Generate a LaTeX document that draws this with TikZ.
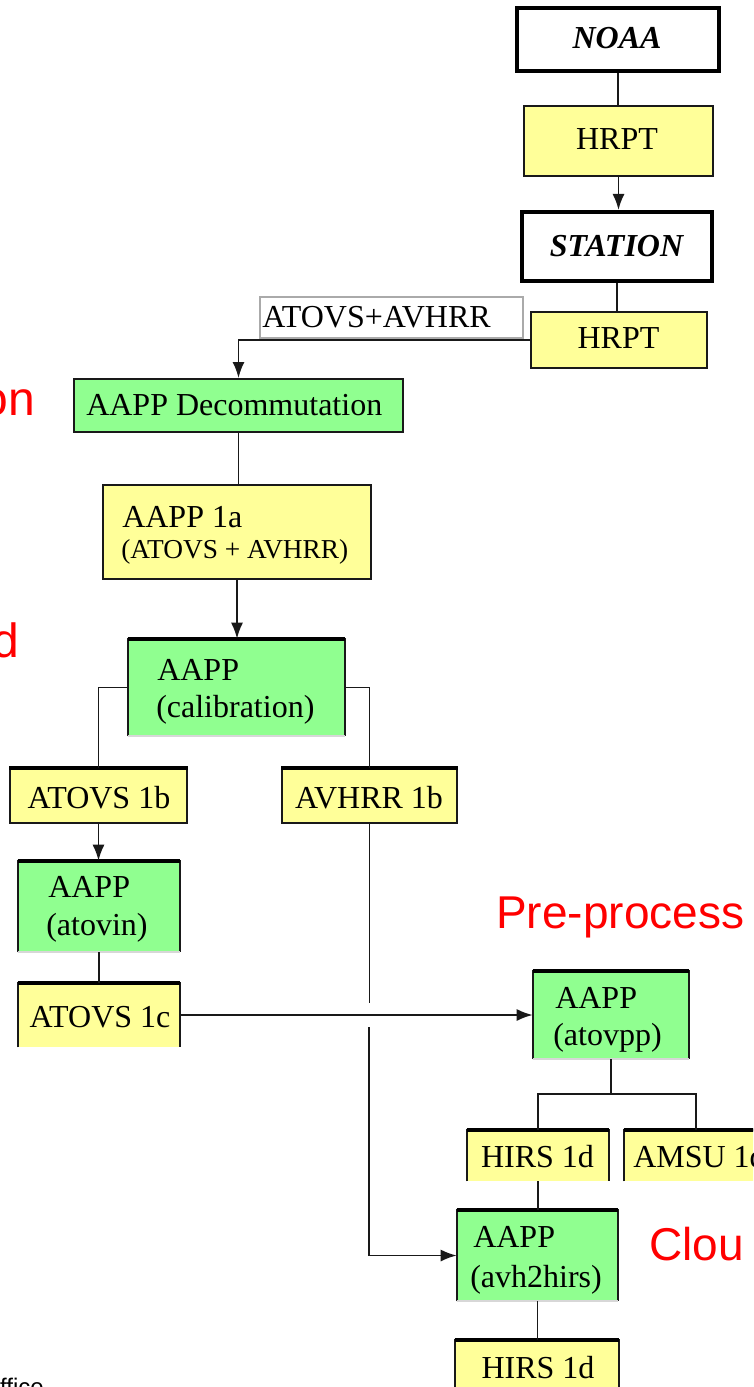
\documentclass[tikz,border=0pt]{standalone}
\usepackage{fontspec}
\setmainfont{Liberation Serif}
\newfontfamily\arialf{Liberation Sans}
\usetikzlibrary{fit,arrows.meta}
\definecolor{yel}{RGB}{255,255,153}
\definecolor{grn}{RGB}{144,255,144}
\definecolor{edgec}{RGB}{25,25,25}
\definecolor{lblc}{RGB}{170,170,170}
\definecolor{faintc}{RGB}{215,215,215}
\definecolor{redc}{RGB}{255,0,0}
\begin{document}
\begin{tikzpicture}[x=0.75pt,y=-0.75pt,
  box/.style={inner sep=0pt, line width=1.4pt, draw=edgec},
  ybox/.style={box, fill=yel},
  gbox/.style={box, fill=grn},
  yfill/.style={inner sep=0pt, fill=yel},
  gfill/.style={inner sep=0pt, fill=grn},
  wbox/.style={inner sep=0pt, line width=3pt, draw=black, fill=white},
  lblbox/.style={inner sep=0pt, line width=1pt, draw=lblc, fill=white},
  side/.style={line width=1.4pt, draw=edgec},
  topbar/.style={line width=3.2pt, draw=black},
  faint/.style={line width=1.2pt, draw=faintc},
  conn/.style={line width=1.4pt, draw=edgec},
  arr/.style={conn, -{Latex[length=12pt,width=9pt]}},
  txt/.style={font=\fontsize{24}{29}\selectfont, inner sep=0pt, anchor=base},
  ltxt/.style={txt, anchor=base west},
  stxt/.style={font=\fontsize{20.5}{24}\selectfont, inner sep=0pt, anchor=base west},
  bitxt/.style={txt, font=\fontsize{24}{29}\selectfont\bfseries\itshape},
  redtxt/.style={font=\arialf\fontsize{34.5}{40}\selectfont, text=redc, inner sep=0pt},
  redbig/.style={font=\arialf\fontsize{36}{42}\selectfont, text=redc, inner sep=0pt},
  blktxt/.style={font=\arialf\fontsize{18}{21}\selectfont, inner sep=0pt}
]
\useasboundingbox (0,0) rectangle (753,1387);
\clip (0,0) rectangle (753,1387);

% top boxes
\node[wbox, fit={(517,8)(719,71)}] (noaa) {};
\node[ybox, fit={(524,106)(713,176)}] (hrpt1) {};
\node[wbox, fit={(522,212)(712,281)}] (station) {};
\node[lblbox, fit={(260,297)(523,338)}] (lbl) {};
\node[ybox, fit={(531,312)(707,368)}] (hrpt2) {};
\node[gbox, fit={(74,379)(403,432)}] (decom) {};
\node[ybox, fit={(103,485)(371,579)}] (a1a) {};

% boxes with heavy top edge
\node[gfill, fit={(128,639)(345,736)}] (cal) {};
\node[ybox, fit={(10,769)(187,823)}] (atovs1b) {};
\node[ybox, fit={(282,769)(457,823)}] (avhrr1b) {};
\node[gfill, fit={(18,861)(180,952)}] (atovin) {};
\node[yfill, fit={(18,983)(180,1047)}] (atovs1c) {};
\node[gfill, fit={(533,971)(689,1059)}] (atovpp) {};
\node[yfill, fit={(467,1130)(609,1181)}] (hirsa) {};
\node[yfill, fit={(624,1130)(768,1181)}] (amsu) {};
\node[gfill, fit={(457,1210)(618,1301)}] (avh) {};
\node[yfill, fit={(455,1340)(619,1400)}] (hirsb) {};

\foreach \n in {cal,atovin,atovs1c,atovpp,hirsa,amsu,avh,hirsb}{
  \draw[side] (\n.south west) -- (\n.north west) -- (\n.north east) -- (\n.south east);
}
\foreach \n in {cal,atovin,atovpp,avh}{
  \draw[faint] (\n.south west) -- (\n.south east);
}
\foreach \n in {cal,atovs1b,avhrr1b,atovin,atovs1c,atovpp,hirsa,amsu,avh,hirsb}{
  \draw[topbar] (\n.north west) -- (\n.north east);
}

% texts
\node[bitxt] (tnoaa) at (617,49) {NOAA};
\node[txt] (thrpt1) at (617,150) {HRPT};
\node[bitxt] (tstation) at (616.5,257) {STATION};
\node[ltxt] (tlbl) at (262,327) {ATOVS+AVHRR};
\node[txt] (thrpt2) at (618.5,348) {HRPT};
\node[ltxt] (tdecom) at (86,415) {AAPP Decommutation};
\node[ltxt] (ta1a) at (122,527) {AAPP 1a};
\node[stxt] (ta1b) at (121,558) {(ATOVS + AVHRR)};
\node[ltxt] (tcal1) at (157,680) {AAPP};
\node[ltxt] (tcal2) at (156,717) {(calibration)};
\node[txt] (tatovs1b) at (99,808) {ATOVS 1b};
\node[txt] (tavhrr1b) at (369,808) {AVHRR 1b};
\node[ltxt] (tatovin1) at (48,897) {AAPP};
\node[ltxt] (tatovin2) at (46,935) {(atovin)};
\node[txt] (tatovs1c) at (100,1027) {ATOVS 1c};
\node[ltxt] (tatovpp1) at (555,1008) {AAPP};
\node[ltxt] (tatovpp2) at (553,1045) {(atovpp)};
\node[txt] (thirsa) at (537.5,1167) {HIRS 1d};
\node[ltxt] (tamsu) at (633,1167) {AMSU 1d};
\node[ltxt] (tavh1) at (473,1247) {AAPP};
\node[ltxt] (tavh2) at (470,1287) {(avh2hirs)};
\node[txt] (thirsb) at (538,1378) {HIRS 1d};

% red captions (cut by the frame, as in the reference)
\node[redbig, anchor=base east] (ron) at (35,415) {on};
\node[redbig, anchor=base east] (rd) at (19,657) {d};
\node[redtxt, anchor=base west] (rpre) at (496,928) {Pre-process};
\node[redtxt, anchor=base west] (rclou) at (649,1260) {Clou};
\node[blktxt, anchor=base east] (toffice) at (44,1395) {ffice};

% connectors
\coordinate (split) at (611,1094);
\coordinate (gapT) at (369.5,1003);
\coordinate (gapB) at (369,1027);

\draw[conn] (noaa.south) -- (noaa.south |- hrpt1.north);
\draw[arr] (hrpt1.south) -- (hrpt1.south |- station.north);
\draw[conn] (station.south) -- (station.south |- hrpt2.north);
\draw[arr] (hrpt2.west) -| (decom.north);
\draw[conn] (decom.south) -- (decom.south |- a1a.north);
\draw[arr] (a1a.south) -- (a1a.south |- cal.north);
\draw[conn] (cal.west) -| (atovs1b.north);
\draw[conn] (cal.east) -| (avhrr1b.north);
\draw[arr] (atovs1b.south) -- (atovs1b.south |- atovin.north);
\draw[conn] (atovin.south) -- (atovin.south |- atovs1c.north);
\draw[arr] (atovs1c.east) -- (atovs1c.east -| atovpp.west);
\draw[conn] (avhrr1b.south) -- (gapT);
\draw[arr] (gapB) |- (avh.west);
\draw[conn] (atovpp.south) -- (split);
\draw[conn] (hirsa.north) |- (split) -| (amsu.north);
\draw[conn] (hirsa.south) -- (hirsa.south |- avh.north);
\draw[conn] (avh.south) -- (avh.south |- hirsb.north);
\end{tikzpicture}
\end{document}
